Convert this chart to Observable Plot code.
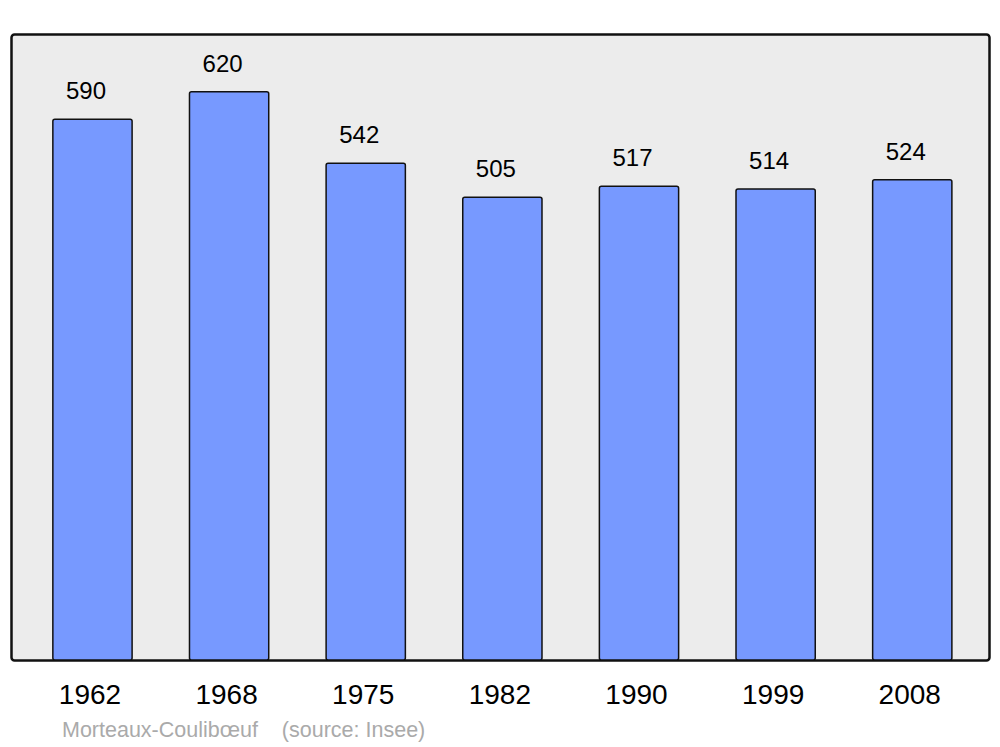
<!DOCTYPE html>
<html>
<head>
<meta charset="utf-8">
<script src="https://cdn.jsdelivr.net/npm/d3@7"></script>
<script src="https://cdn.jsdelivr.net/npm/@observablehq/plot@0.6"></script>
<style>
  html, body { margin: 0; padding: 0; background: #fff; }
  body { width: 1000px; height: 747px; overflow: hidden; font-family: "Liberation Sans", Arial, sans-serif; }
  #caption { margin-left: 62px; margin-top: 0px; font-size: 21.5px; color: #aaaaaa; white-space: pre; line-height: 24px; }
</style>
</head>
<body>
<div id="chart"></div>
<div id="caption">Morteaux-Coulibœuf    (source: Insee)</div>
<script>
const years = ["1962", "1968", "1975", "1982", "1990", "1999", "2008"];
const population = [590, 620, 542, 505, 517, 514, 524];

const data = years.map((y, i) => ({year: y, pop: population[i]}));

const chart = Plot.plot({
  width: 1000,
  height: 718,
  marginLeft: 11,
  marginRight: 11,
  marginTop: 34,
  marginBottom: 58,
  style: {fontFamily: "Liberation Sans, Arial, sans-serif", background: "transparent"},
  x: {domain: years, paddingInner: 0.42, paddingOuter: 0.289, align: 0.53, round: false, label: null},
  y: {domain: [0, 683], axis: null},
  marks: [
    Plot.frame({fill: "#ececec", stroke: "#111", strokeWidth: 2.5, rx: 3}),
    Plot.barY(data, {x: "year", y: "pop", fill: "#7799ff", stroke: "#111", strokeWidth: 1.5, rx: 2}),
    Plot.text(data, {x: "year", y: "pop", text: d => String(d.pop), dy: -28, dx: -7, fontSize: 24, fill: "#000"}),
    Plot.axisX({tickSize: 0, tickPadding: 24, fontSize: 28, dx: -3, fill: "#000"})
  ]
});
document.getElementById("chart").appendChild(chart);
</script>
</body>
</html>
